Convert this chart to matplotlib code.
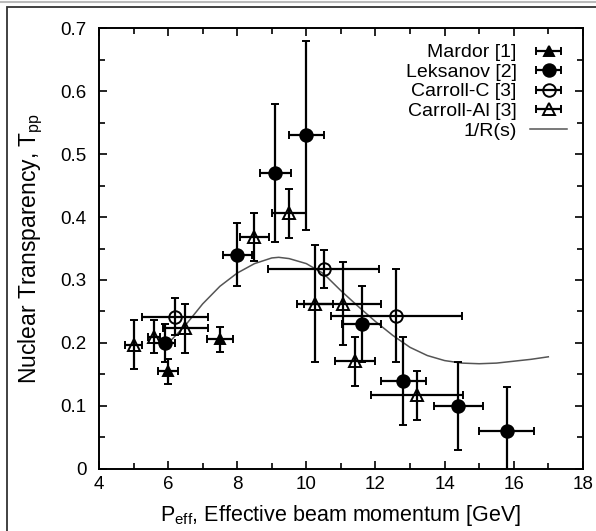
import matplotlib
matplotlib.use("Agg")
import matplotlib.pyplot as plt
from matplotlib.lines import Line2D
from matplotlib.patches import Rectangle
from matplotlib.ticker import MultipleLocator
from matplotlib.container import ErrorbarContainer
from matplotlib.legend_handler import HandlerErrorbar
import numpy as np

# Mardor [1]
mardor_x = [6.0, 7.5]
mardor_y = [0.155, 0.206]
mardor_xerr = [0.3, 0.38]
mardor_yerr = [0.02, 0.02]

# Leksanov [2]
leksanov_x = [5.9, 8.0, 9.1, 10.0, 11.6, 12.8, 14.4, 15.8]
leksanov_y = [0.200, 0.340, 0.470, 0.530, 0.230, 0.140, 0.100, 0.060]
leksanov_xerr = [0.3, 0.42, 0.45, 0.5, 0.56, 0.65, 0.72, 0.8]
leksanov_yerr = [0.03, 0.05, 0.11, 0.15, 0.06, 0.07, 0.07, 0.07]

# Carroll-C [3]
carrollc_x = [6.2, 10.5, 12.6]
carrollc_y = [0.242, 0.317, 0.243]
carrollc_xerr = [0.95, 1.6, 1.9]
carrollc_yerr = [0.03, 0.03, 0.074]

# Carroll-Al [3]
carrollal_x = [5.0, 5.6, 6.5, 8.5, 9.5, 10.25, 11.05, 11.4, 13.2]
carrollal_y = [0.197, 0.210, 0.223, 0.368, 0.406, 0.262, 0.262, 0.171, 0.117]
carrollal_xerr = [0.25, 0.18, 0.65, 0.43, 0.48, 0.52, 1.12, 0.58, 1.33]
carrollal_yerr = [0.039, 0.026, 0.039, 0.038, 0.039, 0.093, 0.066, 0.039, 0.039]

# 1/R(s) curve
curve_x = [6.1, 6.5, 7.0, 7.5, 8.0, 8.5, 9.0, 9.2, 9.5, 10.0, 10.5, 11.0, 11.5,
           12.0, 12.5, 13.0, 13.5, 14.0, 14.5, 15.0, 15.5, 16.0, 16.5, 17.0]
curve_y = [0.205, 0.228, 0.262, 0.290, 0.311, 0.326, 0.335, 0.336, 0.334, 0.326,
           0.310, 0.283, 0.258, 0.234, 0.212, 0.193, 0.180, 0.172, 0.168, 0.167,
           0.168, 0.171, 0.174, 0.178]

plt.rcParams['font.family'] = ['Liberation Sans', 'DejaVu Sans']

fig = plt.figure(figsize=(5.96, 5.31), dpi=100)
ax = fig.add_axes([0.166, 0.117, 0.812, 0.830])

eb = dict(color='black', ecolor='black', elinewidth=1.6, capsize=3, capthick=1.6,
          linestyle='none', markeredgewidth=1.4)

ax.plot(curve_x, curve_y, color='#555555', lw=1.1, zorder=1)
ax.errorbar(mardor_x, mardor_y, xerr=mardor_xerr, yerr=mardor_yerr,
            marker='^', ms=7, mfc='black', **eb)
ax.errorbar(leksanov_x, leksanov_y, xerr=leksanov_xerr, yerr=leksanov_yerr,
            marker='o', ms=9, mfc='black', **eb)
ax.errorbar(carrollc_x, carrollc_y, xerr=carrollc_xerr, yerr=carrollc_yerr,
            marker='o', ms=9, mfc='none', **eb)
ax.errorbar(carrollal_x, carrollal_y, xerr=carrollal_xerr, yerr=carrollal_yerr,
            marker='^', ms=9, mfc='none', **eb)

# legend proxies (horizontal bar only, like the original)
h1 = ax.errorbar([np.nan], [np.nan], xerr=[1], marker='^', ms=7, mfc='black', **eb)
h2 = ax.errorbar([np.nan], [np.nan], xerr=[1], marker='o', ms=9, mfc='black', **eb)
h3 = ax.errorbar([np.nan], [np.nan], xerr=[1], marker='o', ms=9, mfc='none', **eb)
h4 = ax.errorbar([np.nan], [np.nan], xerr=[1], marker='^', ms=9, mfc='none', **eb)
h5 = Line2D([], [], color='#555555', lw=1.1)
ax.legend([h1, h2, h3, h4, h5],
          ['Mardor [1]', 'Leksanov [2]', 'Carroll-C [3]', 'Carroll-Al [3]', '1/R(s)'],
          loc='upper right', frameon=False, markerfirst=False, fontsize=14,
          handlelength=1.9, labelspacing=0.1, handletextpad=0.7,
          borderaxespad=0.4,
          handler_map={ErrorbarContainer: HandlerErrorbar(xerr_size=0.65)})

ax.set_xlim(4, 18)
ax.set_ylim(0, 0.7)
ax.xaxis.set_major_locator(MultipleLocator(2))
ax.xaxis.set_minor_locator(MultipleLocator(1))
ax.yaxis.set_major_locator(MultipleLocator(0.1))
ax.yaxis.set_minor_locator(MultipleLocator(0.05))
ax.yaxis.set_major_formatter(plt.FuncFormatter(lambda v, _: '0' if v == 0 else f'{v:.1f}'))
ax.tick_params(which='both', direction='in', top=True, right=True, labelsize=13.5,
               width=1.2)
ax.tick_params(which='major', length=6)
ax.tick_params(which='minor', length=4)
ax.tick_params(axis='y', which='major', pad=9)
ax.tick_params(axis='x', which='major', pad=5)
for s in ax.spines.values():
    s.set_linewidth(1.4)

ax.set_xlabel(r'P$_{\mathregular{eff}}$, Effective beam momentum [GeV]', fontsize=15.5,
              labelpad=7)
ax.set_ylabel(r'Nuclear Transparency, T$_{\mathregular{pp}}$', fontsize=16.5)
ax.yaxis.set_label_coords(-0.112, 0.5)

# outer frame of the original figure
fig.add_artist(Rectangle((7 / 596, -0.1), 1.2, 1 - 7 / 531 + 0.1,
                         transform=fig.transFigure, fill=False, lw=1.3,
                         edgecolor='#333333'))
fig.add_artist(Line2D([0, 1], [1 - 1.5 / 531] * 2, transform=fig.transFigure,
                      color='#bbbbbb', lw=1.5))

fig.savefig('out.png', dpi=100)
